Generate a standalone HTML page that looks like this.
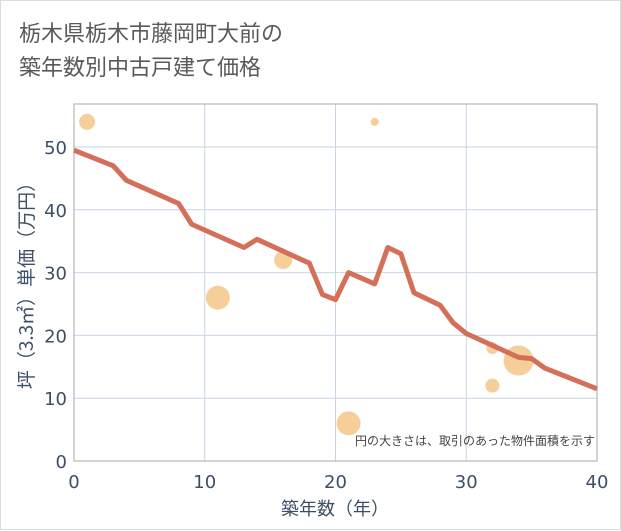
<!DOCTYPE html>
<html><head><meta charset="utf-8"><style>
body{margin:0;background:#fff;}
#c{position:relative;width:621px;height:530px;box-sizing:border-box;border:1px solid #ddd;font-family:"Liberation Sans","Noto Sans CJK JP",sans-serif;}
.t{position:absolute;left:18px;top:14px;font-size:22px;line-height:34px;color:#5a5a5a;font-family:"Noto Sans CJK JP",sans-serif;}
</style></head><body>
<div id="c">
<div class="t">栃木県栃木市藤岡町大前の<br>築年数別中古戸建て価格</div>
<svg id="s" width="621" height="530" style="position:absolute;left:0;top:0"></svg>
</div>
<script>
const xTicks=[0,10,20,30,40];
const yTicks=[0,10,20,30,40,50];
const lineX=[0,3,4,8,9,13,14,18,19,20,21,23,24,25,26,28,29,30,34,35,36,40];
const lineY=[49.5,47,44.7,41,37.7,34,35.3,31.5,26.5,25.7,30,28.2,34,33,26.8,24.8,22,20.3,16.5,16.3,14.8,11.5];
const bubX=[1,11,16,21,23,32,32,34];
const bubY=[54,26,32,6,54,18,12,16];
const bubR=[8,12,9,12,4,6,7,15];
const L=73,R=596,T=103,B=460;
const sx=v=>L+(R-L)*v/40, sy=v=>B-(B-146)*v/50;
const s=document.getElementById('s');const NS='http://www.w3.org/2000/svg';
const TF='"DejaVu Sans",sans-serif', JF='"Noto Sans CJK JP",sans-serif';
function mk(t,a,p){const e=document.createElementNS(NS,t);for(const k in a)e.setAttribute(k,a[k]);(p||s).appendChild(e);return e;}
xTicks.forEach(v=>{const l=mk('line',{x1:sx(v),x2:sx(v),y1:T,y2:B,stroke:'#c8d6e6','stroke-width':1});


const t=mk('text',{x:sx(v),y:487,'text-anchor':'middle','font-size':18,fill:'#3d4f66','font-family':TF});t.textContent=v;

});
yTicks.forEach(v=>{const l=mk('line',{x1:L,x2:R,y1:sy(v),y2:sy(v),stroke:'#c8d6e6','stroke-width':1});


const t=mk('text',{x:66,y:sy(v)+7,'text-anchor':'end','font-size':18,fill:'#3d4f66','font-family':TF});t.textContent=v;

});
const f=mk('rect',{x:L,y:T,width:R-L,height:B-T,fill:'none',stroke:'#aaa','stroke-width':1});


bubX.forEach((v,i)=>{const c=mk('circle',{cx:sx(v),cy:sy(bubY[i]),r:bubR[i],fill:'#f5c587',opacity:0.85});

});
const p=mk('polyline',{points:lineX.map((v,i)=>sx(v)+','+sy(lineY[i])).join(' '),fill:'none',stroke:'#d4705a','stroke-width':5,'stroke-linejoin':'round'});


const n=mk('text',{x:594,y:444,'text-anchor':'end','font-size':12,fill:'#444','font-family':JF});n.textContent='円の大きさは、取引のあった物件面積を示す';


const xt=mk('text',{x:334,y:514,'text-anchor':'middle','font-size':18,fill:'#3d4f66','font-family':JF});xt.textContent='築年数（年）';


const yt=mk('text',{x:0,y:0,'text-anchor':'middle','font-size':19,fill:'#3d4f66','font-family':JF,transform:'translate(32,280) rotate(-90)'});yt.textContent='坪（3.3㎡）単価（万円）';


</script>
</body></html>
